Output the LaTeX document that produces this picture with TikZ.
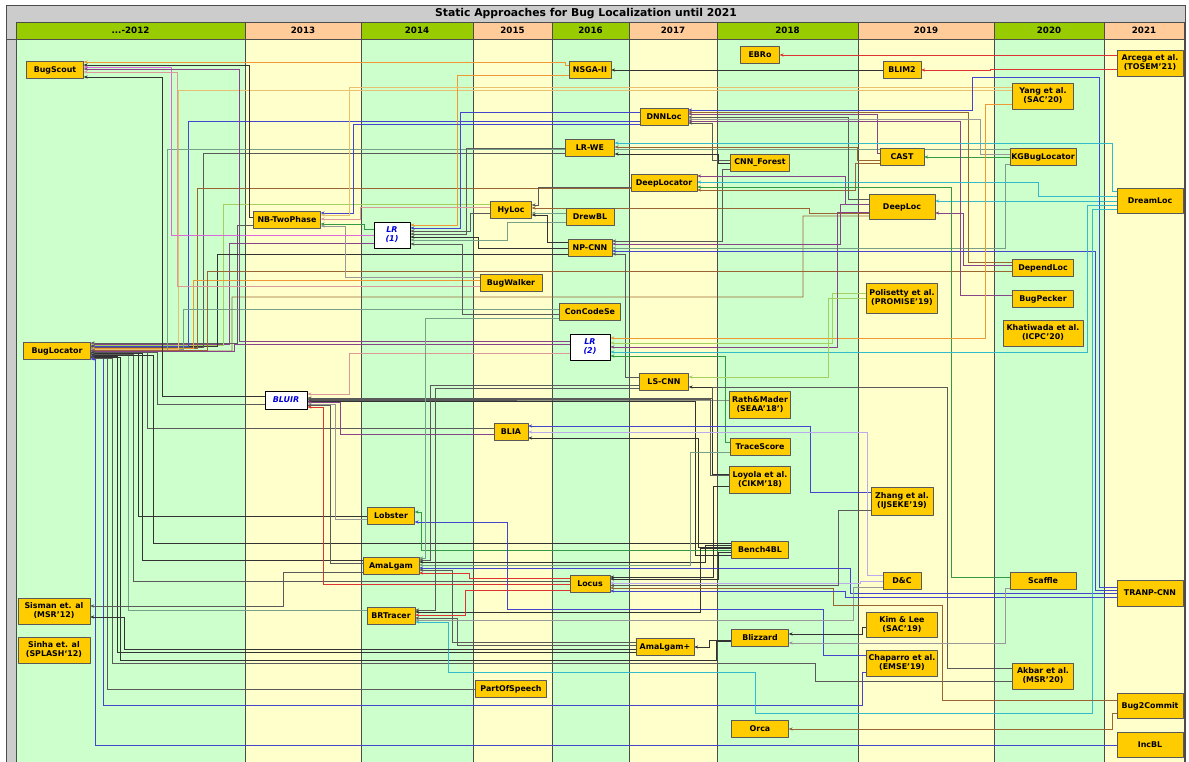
\documentclass[tikz,border=0pt]{standalone}
\usepackage{fontspec}
\setmainfont{DejaVu Sans}
\usetikzlibrary{arrows.meta}

\definecolor{gold}{HTML}{FFCC00}
\definecolor{framegray}{HTML}{CCCCCC}
\definecolor{hgreen}{HTML}{99CC00}
\definecolor{horange}{HTML}{FFCC99}
\definecolor{bgreen}{HTML}{CCFFCC}
\definecolor{byellow}{HTML}{FFFFCC}
\definecolor{cblack}{HTML}{333333}
\definecolor{cdgray}{HTML}{5A5A5A}
\definecolor{cgray}{HTML}{999999}
\definecolor{cblue}{HTML}{4444CC}
\definecolor{cpurple}{HTML}{884488}
\definecolor{cmagenta}{HTML}{DD66DD}
\definecolor{corange}{HTML}{EE9933}
\definecolor{clorange}{HTML}{E8C070}
\definecolor{cgreen}{HTML}{339944}
\definecolor{clgreen}{HTML}{A5D060}
\definecolor{cteal}{HTML}{77A088}
\definecolor{ccyan}{HTML}{33BBCC}
\definecolor{cred}{HTML}{DD3333}
\definecolor{cbrown}{HTML}{996633}
\definecolor{clav}{HTML}{BBAAEE}
\definecolor{cpink}{HTML}{DD9999}

\pgfdeclarelayer{background}
\pgfsetlayers{background,main}

\begin{document}
\begin{tikzpicture}[
		x=1pt, y=-1pt,
		meth/.style={draw=black!65, fill=gold, font=\bfseries\fontsize{7.9}{9}\selectfont, minimum height=17, inner sep=1pt, align=center},
		twoline/.style={meth, minimum height=26},
		lrbox/.style={draw=black, line width=0.8pt, fill=white, text=blue!85!black, font=\bfseries\itshape\fontsize{8}{9}\selectfont, inner sep=1pt, align=center},
		cite/.style={line width=0.45pt, -{Stealth[length=4pt,width=3.2pt]}},
		colsep/.style={draw=black!70, line width=0.6pt},
		hdr/.style={font=\bfseries\fontsize{8.7}{10}\selectfont},
		line cap=round,
		line join=round
		]
		\useasboundingbox (0,0) rectangle (1189,762);
		
		% ---- approaches ----
		\node[meth, minimum width=57] (bugscout) at (55,70) {BugScout};
		\node[meth, minimum width=42] (nsga) at (590,70) {NSGA-II};
		\node[meth, minimum width=39] (ebro) at (760,55) {EBRo};
		\node[meth, minimum width=38] (blim2) at (902,70) {BLIM2};
		\node[twoline, minimum width=66] (arcega) at (1150,63) {Arcega et al.\\(TOSEM'21)};
		\node[twoline, minimum width=61] (yang) at (1043,96) {Yang et al.\\(SAC'20)};
		\node[meth, minimum width=48] (dnnloc) at (664,117) {DNNLoc};
		\node[meth, minimum width=49] (lrwe) at (590,148) {LR-WE};
		\node[meth, minimum width=59] (cnnforest) at (760,163) {CNN\_Forest};
		\node[meth, minimum width=44] (cast) at (902,157) {CAST};
		\node[meth, minimum width=66] (kgbug) at (1043,157) {KGBugLocator};
		\node[meth, minimum width=66] (deeplocator) at (664,183) {DeepLocator};
		\node[twoline, minimum width=66, minimum height=25] (dreamloc) at (1150,201) {DreamLoc};
		\node[twoline, minimum width=66, minimum height=25] (deeploc) at (902,207) {DeepLoc};
		\node[meth, minimum width=67] (nbtwo) at (287,220) {NB-TwoPhase};
		\node[meth, minimum width=41] (hyloc) at (511,210) {HyLoc};
		\node[meth, minimum width=48] (drewbl) at (590,217) {DrewBL};
		\node[lrbox, minimum width=36, minimum height=26] (lr1) at (392,235) {LR\\(1)};
		\node[meth, minimum width=44] (npcnn) at (590,248) {NP-CNN};
		\node[meth, minimum width=61] (dependloc) at (1043,268) {DependLoc};
		\node[meth, minimum width=62] (bugwalker) at (511,283) {BugWalker};
		\node[twoline, minimum width=71, minimum height=30] (polisetty) at (902,298) {Polisetty et al.\\(PROMISE'19)};
		\node[meth, minimum width=61] (bugpecker) at (1043,299) {BugPecker};
		\node[meth, minimum width=61] (concodese) at (590,312) {ConCodeSe};
		\node[twoline, minimum width=80] (khatiwada) at (1043,333) {Khatiwada et al.\\(ICPC'20)};
		\node[lrbox, minimum width=40, minimum height=26] (lr2) at (590,347) {LR\\(2)};
		\node[meth, minimum width=67] (buglocator) at (57,351) {BugLocator};
		\node[meth, minimum width=49] (lscnn) at (664,382) {LS-CNN};
		\node[twoline, minimum width=61, minimum height=27] (rath) at (760,405) {Rath\&Mader\\(SEAA'18')};
		\node[lrbox, minimum width=42, minimum height=18] (bluir) at (286,400) {BLUIR};
		\node[meth, minimum width=34] (blia) at (511,432) {BLIA};
		\node[meth, minimum width=60] (tracescore) at (760,447) {TraceScore};
		\node[twoline, minimum width=61, minimum height=27] (loyola) at (760,480) {Loyola et al.\\(CIKM'18)};
		\node[twoline, minimum width=62, minimum height=28] (zhang) at (902,501) {Zhang et al.\\(IJSEKE'19)};
		\node[meth, minimum width=47] (lobster) at (391,516) {Lobster};
		\node[meth, minimum width=57] (bench4bl) at (760,550) {Bench4BL};
		\node[meth, minimum width=56] (amalgam) at (391,566) {AmaLgam};
		\node[meth, minimum width=40] (locus) at (590,584) {Locus};
		\node[meth, minimum width=38] (dc) at (902,581) {D\&C};
		\node[meth, minimum width=66] (scaffle) at (1043,581) {Scaffle};
		\node[twoline, minimum width=66] (tranp) at (1150,593) {TRANP-CNN};
		\node[twoline, minimum width=72] (sisman) at (54,611) {Sisman et. al\\(MSR'12)};
		\node[meth, minimum width=48] (brtracer) at (391,616) {BRTracer};
		\node[twoline, minimum width=71, minimum height=25] (kimlee) at (902,625) {Kim \& Lee\\(SAC'19)};
		\node[meth, minimum width=57] (blizzard) at (760,638) {Blizzard};
		\node[twoline, minimum width=72] (sinha) at (54,650) {Sinha et. al\\(SPLASH`12)};
		\node[meth, minimum width=58] (amalgamplus) at (665,647) {AmaLgam+};
		\node[twoline, minimum width=71] (chaparro) at (902,663) {Chaparro et al.\\(EMSE'19)};
		\node[twoline, minimum width=61] (akbar) at (1043,676) {Akbar et al.\\(MSR'20)};
		\node[meth, minimum width=71] (partofspeech) at (511,689) {PartOfSpeech};
		\node[twoline, minimum width=66, minimum height=25] (bug2commit) at (1150,706) {Bug2Commit};
		\node[meth, minimum width=57] (orca) at (760,729) {Orca};
		\node[twoline, minimum width=66, minimum height=25] (incbl) at (1150,745) {IncBL};
		
		\begin{pgfonlayer}{background}
		% ---- frame, title and year columns ----
		\fill[framegray, draw=black!70] (6,5) rectangle (1185,764);
		\node[font=\bfseries\fontsize{10.8}{12}\selectfont] (title) at (586,13.5) {Static Approaches for Bug Localization until 2021};
		\foreach \xa/\xb/\yr/\hc/\bc in {16/245/{...-2012}/hgreen/bgreen, 245/361/2013/horange/byellow,
				361/473/2014/hgreen/bgreen, 473/552/2015/horange/byellow, 552/629/2016/hgreen/bgreen,
				629/717/2017/horange/byellow, 717/858/2018/hgreen/bgreen, 858/994/2019/horange/byellow,
				994/1104/2020/hgreen/bgreen, 1104/1184/2021/horange/byellow}{
			\fill[\bc] (\xa,39) rectangle (\xb,764);
			\fill[\hc] (\xa,22) rectangle (\xb,39);
			\node[hdr] (yr\xa) at ({(\xa+\xb)/2},30.5) {\yr};
			\draw[colsep] (\xa,22) -- (\xa,764);
		}
		\draw[colsep] (1184,22) -- (1184,764);
		\draw[colsep] (16,22) -- (1184,22);
		\draw[colsep] (6,39) -- (1184,39);
		
		% ---- into BugLocator ----
		\draw[cite,cdgray] ([yshift=-5pt]nbtwo.west) -- ++(-16.5,0) |- ([yshift=8pt]buglocator.east);
		\draw[cite,cpurple] ([yshift=-8pt]lr1.west) -- ++(-144,0) |- ([yshift=7pt]buglocator.east);
		\draw[cite,clgreen] ([yshift=6pt]hyloc.west) -- ++(-267.5,0) |- ([yshift=6pt]buglocator.east);
		\draw[cite,cblack] ([yshift=-6pt]npcnn.west) -- ++(-351,0) |- ([yshift=5pt]buglocator.east);
		\draw[cite,cblue] ([yshift=-4pt]dnnloc.west) -- ++(-452,0) |- ([yshift=4.5pt]buglocator.east);
		\draw[cite,cdgray] ([yshift=-5pt]lrwe.west) -- ++(-362.5,0) |- ([yshift=4pt]buglocator.east);
		\draw[cite,cbrown] ([yshift=-5pt]deeplocator.west) -- ++(-434,0) |- ([yshift=3pt]buglocator.east);
		\draw[cite,corange] ([yshift=3pt]bugwalker.west) -- ++(-287,0) |- ([yshift=2.5pt]buglocator.east);
		\draw[cite,cteal] ([yshift=3pt]concodese.west) -- ++(-376.5,0) |- ([yshift=2pt]buglocator.east);
		\draw[cite,clorange] ([yshift=6pt]yang.west) -- ++(-834.5,0) |- ([yshift=1.5pt]buglocator.east);
		\draw[cite,cteal] ([yshift=8pt]kgbug.west) -- ++(-843,0) |- ([yshift=1pt]buglocator.east);
		\draw[cite,cbrown] ([yshift=-3pt]dependloc.west) -- ++(-805.5,0) |- ([yshift=0.5pt]buglocator.east);
		\draw[cite,cbrown,line width=0.9pt] ([yshift=-9pt]deeploc.west) -| (803,297) -| (232,351) -- ([yshift=0.2pt]buglocator.east);
		\draw[cite,cpurple] ([yshift=3pt]lr2.west) -- ++(-335,0) |- ([yshift=0pt]buglocator.east);
		\draw[cite,cdgray] ([yshift=-4pt]bluir.west) -- ++(-107,0) |- ([yshift=-1pt]buglocator.east);
		\draw[cite,cdgray] ([yshift=4pt]blia.west) -- ++(-347,0) |- ([yshift=-1.5pt]buglocator.east);
		\draw[cite,cblack] ([yshift=0pt]lobster.west) -- ++(-229.5,0) |- ([yshift=-2pt]buglocator.east);
		\draw[cite,cblack] ([yshift=6pt]amalgam.west) -- ++(-221,0) |- ([yshift=-2.5pt]buglocator.east);
		\draw[cite,cteal] ([yshift=6pt]brtracer.west) -- ++(-239,0) |- ([yshift=-3pt]buglocator.east);
		\draw[cite,cdgray] ([yshift=3pt]locus.west) -- ++(-437,0) |- ([yshift=-3.5pt]buglocator.east);
		\draw[cite,cblack] ([yshift=7pt]bench4bl.west) -- ++(-578.5,0) |- ([yshift=-4pt]buglocator.east);
		\draw[cite,cdgray] (partofspeech.west) -- ++(-368.5,0) |- ([yshift=-5pt]buglocator.east);
		\draw[cite,cblack] ([yshift=-5pt]amalgamplus.west) -- ++(-519,0) |- ([yshift=-5.5pt]buglocator.east);
		\draw[cite,cblue] ([yshift=-9pt]chaparro.west) -| (862,705) -| (103,357) -- ([yshift=-6pt]buglocator.east);
		\draw[cite,cblack] ([yshift=-3pt]blizzard.west) -| (716,660) -| (120,357.5) -- ([yshift=-6.5pt]buglocator.east);
		\draw[cite,cdgray] ([yshift=-5pt]akbar.west) -| (815,663) -| (112,358) -- ([yshift=-7pt]buglocator.east);
		\draw[cite,cblue] (incbl.west) -- ++(-1022,0) |- ([yshift=-8pt]buglocator.east);
		
		% ---- into BugScout ----
		\draw[cite,corange] ([yshift=5pt]nsga.west) -- ++(-4,0) |- ([yshift=8pt]bugscout.east);
		\draw[cite,cblack] ([yshift=3pt]nbtwo.west) -- ++(-4.5,0) |- ([yshift=5pt]bugscout.east);
		\draw[cite,cmagenta] (lr1.west) -- ++(-202,0) |- ([yshift=3pt]bugscout.east);
		\draw[cite,cpurple] ([yshift=6pt]lr2.west) -- ++(-330,0) |- ([yshift=1pt]bugscout.east);
		\draw[cite,cpink] ([yshift=-3pt]bugwalker.west) -- ++(-303,0) |- ([yshift=-2pt]bugscout.east);
		\draw[cite,cblack] ([yshift=4pt]bluir.west) -- ++(-102,0) |- ([yshift=-7pt]bugscout.east);
		
		% ---- top right ----
		\draw[cite,cred] ([yshift=8pt]arcega.west) -- (ebro.east);
		\draw[cite,cred] ([yshift=-6pt]arcega.west) -- ++(-127,0) |- (blim2.east);
		\draw[cite,cblack] (blim2.west) -- (nsga.east);
		\draw[cite,cgreen] (kgbug.west) -- (cast.east);
		\draw[cite,ccyan] (dreamloc.west) -- ([yshift=6pt]deeploc.east);
		\draw[cite,cpurple] ([yshift=3pt]dependloc.west) -- ++(-49.5,0) |- ([yshift=-6pt]deeploc.east);
		
		% ---- into LR (1) ----
		\draw[cite,corange] ([yshift=-5pt]nsga.west) -- ++(-112,0) |- ([yshift=10pt]lr1.east);
		\draw[cite,cblue] ([yshift=5pt]dnnloc.west) -- ++(-180,0) |- ([yshift=7pt]lr1.east);
		\draw[cite,cdgray] ([yshift=-3pt]hyloc.west) -- ++(-20.5,0) |- ([yshift=4pt]lr1.east);
		\draw[cite,cdgray] (lrwe.west) -- ++(-99.5,0) |- ([yshift=1pt]lr1.east);
		\draw[cite,cblack] (npcnn.west) -- ++(-90,0) |- ([yshift=-2pt]lr1.east);
		\draw[cite,cteal] ([yshift=-5pt]drewbl.west) -- ++(-59,0) |- ([yshift=-5pt]lr1.east);
		\draw[cite,cdgray] ([yshift=-2pt]concodese.west) -- ++(-97.5,0) |- ([yshift=-9pt]lr1.east);
		
		% ---- into NB-TwoPhase ----
		\draw[cite,cblue] ([yshift=-7pt]dnnloc.west) -- ++(-287,0) |- ([yshift=7pt]nbtwo.east);
		\draw[cite,clorange] ([yshift=9pt]yang.west) -- ++(-663.5,0) |- ([yshift=5pt]nbtwo.east);
		\draw[cite,cpink] ([yshift=3pt]hyloc.west) -- ++(-130.5,0) |- ([yshift=1pt]nbtwo.east);
		\draw[cite,cgreen] ([yshift=6pt]lr1.west) -- ++(-9,0) |- ([yshift=-4pt]nbtwo.east);
		\draw[cite,cgray] ([yshift=6pt]bugwalker.west) -- ++(-135,0) |- ([yshift=-6pt]nbtwo.east);
		
		% ---- into HyLoc and NP-CNN ----
		\draw[cite,cdgray] ([yshift=-4pt]deeplocator.west) -- ++(-93,0) |- ([yshift=5pt]hyloc.east);
		\draw[cite,cbrown] ([yshift=-6pt]deeploc.west) -- ++(-60,0) |- ([yshift=2pt]hyloc.east);
		\draw[cite,cteal] ([yshift=4pt]drewbl.west) -- ([yshift=-3pt]hyloc.east);
		\draw[cite,cblack] ([yshift=6pt]npcnn.west) -- ++(-21,0) |- ([yshift=-5pt]hyloc.east);
		\draw[cite,cdgray] ([yshift=-6pt]cnnforest.west) -- ++(-8.5,0) |- ([yshift=7pt]npcnn.east);
		\draw[cite,cpurple] ([yshift=3pt]deeploc.west) -- ++(-29,0) |- ([yshift=4pt]npcnn.east);
		\draw[cite,cteal] ([yshift=-7pt]kgbug.west) -- ++(-5,0) |- (npcnn.east);
		\draw[cite,cblue] ([yshift=3pt]tranp.west) -- ++(-22,0) |- ([yshift=-3pt]npcnn.east);
		\draw[cite,cdgray] ([yshift=5pt]lscnn.west) -- ++(-14.5,0) |- ([yshift=-6pt]npcnn.east);
		
		% ---- into DNNLoc, LR-WE, DeepLocator ----
		\draw[cite,cblue] ([yshift=6pt]tranp.west) -| (1099,77) -| (972,110) -- ([yshift=7pt]dnnloc.east);
		\draw[cite,cbrown] ([yshift=6pt]dependloc.west) -- ++(-44.5,0) |- ([yshift=5pt]dnnloc.east);
		\draw[cite,cpurple] ([yshift=4pt]cast.west) -- ++(-3,0) |- ([yshift=3pt]dnnloc.east);
		\draw[cite,cdgray] ([yshift=8pt]deeploc.west) -- ++(-21,0) |- (dnnloc.east);
		\draw[cite,cgray] ([yshift=3pt]kgbug.west) -- ++(-30,0) |- ([yshift=-2pt]dnnloc.east);
		\draw[cite,cpurple] ([yshift=4pt]bugpecker.west) -- ++(-52.5,0) |- ([yshift=-4pt]dnnloc.east);
		\draw[cite,cdgray] ([yshift=3pt]cnnforest.west) -- ++(-18.5,0) |- ([yshift=-6pt]dnnloc.east);
		\draw[cite,ccyan] ([yshift=10pt]dreamloc.west) -- ++(-5,0) |- ([yshift=5pt]lrwe.east);
		\draw[cite,cbrown] ([yshift=-3pt]cast.west) -- ++(-23,0) |- ([yshift=1pt]lrwe.east);
		\draw[cite,cblack] (cnnforest.west) -- ++(-12.5,0) |- ([yshift=-6pt]lrwe.east);
		\draw[cite,cpurple] ([yshift=3pt]deeploc.west) -- ++(-24,0) |- ([yshift=7pt]deeplocator.east);
		\draw[cite,ccyan] ([yshift=5pt]dreamloc.west) -- ++(-79,0) |- ([yshift=1pt]deeplocator.east);
		\draw[cite,cgreen] ([yshift=4pt]scaffle.west) -- ++(-59,0) |- ([yshift=-4pt]deeplocator.east);
		\draw[cite,cbrown] ([yshift=-6pt]cast.west) -- ++(-25,0) |- ([yshift=-7pt]deeplocator.east);
		
		% ---- into LR (2) and LS-CNN ----
		\draw[cite,corange] ([yshift=-8pt]yang.west) -- ++(-27.5,0) |- ([yshift=9pt]lr2.east);
		\draw[cite,clgreen] ([yshift=5pt]polisetty.west) -- ++(-34.5,0) |- ([yshift=4pt]lr2.east);
		\draw[cite,cpurple] ([yshift=-5pt]deeploc.west) -- ++(-32,0) |- (lr2.east);
		\draw[cite,ccyan] ([yshift=-4pt]dreamloc.west) -- ++(-30,0) |- ([yshift=-5pt]lr2.east);
		\draw[cite,cgreen] ([yshift=5pt]tracescore.west) -- ++(-5,0) |- ([yshift=-9pt]lr2.east);
		\draw[cite,clgreen] (polisetty.west) -- ++(-38.5,0) |- ([yshift=5pt]lscnn.east);
		\draw[cite,cblack] ([yshift=6pt]loyola.west) -- ++(-17.5,0) |- ([yshift=-5pt]lscnn.east);
		
		% ---- into BLUIR and BLIA ----
		\draw[cite,cdgray] ([yshift=8pt]akbar.west) -| (947,387) -| (712,398) -- ([yshift=2pt]bluir.east);
		\draw[cite,cdgray] ([yshift=5pt]rath.west) -- ++(-9.5,0) |- (bluir.east);
		\draw[cite,cdgray] ([yshift=5pt]loyola.west) -- ++(-19.5,0) |- ([yshift=1pt]bluir.east);
		\draw[cite,cblack] ([yshift=-5pt]bench4bl.west) -- ++(-36.5,0) |- ([yshift=-1.5pt]bluir.east);
		\draw[cite,cpink] ([yshift=-6pt]lr2.west) -- ++(-220,0) |- ([yshift=6pt]bluir.east);
		\draw[cite,cpurple] ([yshift=-2pt]blia.west) -- ++(-154,0) |- ([yshift=-2pt]bluir.east);
		\draw[cite,cgray] ([yshift=-3pt]lobster.west) -- ++(-32.5,0) |- ([yshift=-4pt]bluir.east);
		\draw[cite,cdgray] ([yshift=3pt]amalgam.west) -- ++(-33,0) |- ([yshift=-5.5pt]bluir.east);
		\draw[cite,cred] (locus.west) -- ++(-247,0) |- ([yshift=-7pt]bluir.east);
		\draw[cite,cblue] ([yshift=9pt]zhang.west) -- ++(-61,0) |- ([yshift=6pt]blia.east);
		\draw[cite,clav] ([yshift=6pt]dc.west) -- ++(-16,0) |- (blia.east);
		\draw[cite,cblack] ([yshift=3pt]bench4bl.west) -- ++(-33.5,0) |- ([yshift=-6pt]blia.east);
		
		% ---- into Lobster, AmaLgam, BRTracer ----
		\draw[cite,cgreen] (bench4bl.west) -- ++(-310.5,0) |- ([yshift=4pt]lobster.east);
		\draw[cite,cblue] ([yshift=8pt]chaparro.west) -| (823,609) -| (507,522) -- ([yshift=-6pt]lobster.east);
		\draw[cite,cteal] ([yshift=-6pt]concodese.west) -- ++(-134.5,0) |- ([yshift=8pt]amalgam.east);
		\draw[cite,cdgray] ([yshift=-3pt]lscnn.west) -- ++(-209.5,0) |- ([yshift=6pt]amalgam.east);
		\draw[cite,cblack] ([yshift=5pt]bench4bl.west) -- ++(-26.5,0) |- ([yshift=4pt]amalgam.east);
		\draw[cite,cteal] ([yshift=-5pt]tracescore.west) -- ++(-40,0) |- ([yshift=1pt]amalgam.east);
		\draw[cite,cblue] (tranp.west) -- ++(-267,0) |- ([yshift=-2pt]amalgam.east);
		\draw[cite,cdgray] ([yshift=5pt]amalgamplus.west) -- ++(-184,0) |- ([yshift=-4pt]amalgam.east);
		\draw[cite,cred] ([yshift=6pt]locus.west) -- ++(-101,0) |- ([yshift=-7pt]amalgam.east);
		\draw[cite,cdgray] ([yshift=-6pt]lscnn.west) -- ++(-204.5,0) |- ([yshift=6pt]brtracer.east);
		\draw[cite,cblack] ([yshift=2pt]bench4bl.west) -- ++(-31.5,0) |- ([yshift=4pt]brtracer.east);
		\draw[cite,cred] ([yshift=-6pt]locus.west) -- ++(-105,0) |- ([yshift=1pt]brtracer.east);
		\draw[cite,cdgray] ([yshift=2pt]amalgamplus.west) -- ++(-179,0) |- ([yshift=-2pt]brtracer.east);
		\draw[cite,cgray] ([yshift=-6pt]dc.west) -- ++(-30,0) |- ([yshift=-4pt]brtracer.east);
		\draw[cite,ccyan] ([yshift=-8pt]dreamloc.west) -| (1092,713) -| (755,672) -| (448,622) -- ([yshift=-6pt]brtracer.east);
		
		% ---- into Locus, Sisman, Blizzard, AmaLgam+, Orca ----
		\draw[cite,cblack] ([yshift=-6pt]loyola.west) -- ++(-16.5,0) |- ([yshift=7pt]locus.east);
		\draw[cite,cblack] ([yshift=-2pt]bench4bl.west) -- ++(-13.5,0) |- ([yshift=5pt]locus.east);
		\draw[cite,clav] (dc.west) -- ++(-23,0) |- ([yshift=1pt]locus.east);
		\draw[cite,cdgray] ([yshift=-9pt]zhang.west) -- ++(-33,0) |- ([yshift=-1.5pt]locus.east);
		\draw[cite,cbrown] ([yshift=6pt]bug2commit.west) -| (942,605) -| (833,588) -- ([yshift=-4pt]locus.east);
		\draw[cite,cblue] ([yshift=-4pt]tranp.west) -- ++(-272,0) |- ([yshift=-7pt]locus.east);
		\draw[cite,cdgray] ([yshift=-6pt]amalgam.west) -- ++(-80,0) |- ([yshift=5pt]sisman.east);
		\draw[cite,cblack] ([yshift=-2pt]amalgamplus.west) -- ++(-512,0) |- ([yshift=-6pt]sisman.east);
		\draw[cite,cblack] ([yshift=-2pt]kimlee.west) -- ++(-4.5,0) |- ([yshift=4pt]blizzard.east);
		\draw[cite,cgray] ([yshift=-7pt]scaffle.west) -- ++(-5,0) |- ([yshift=-5pt]blizzard.east);
		\draw[cite,cblack] ([yshift=-2pt]blizzard.west) -- ++(-22.5,0) |- (amalgamplus.east);
		\draw[cite,cbrown] ([yshift=-7pt]bug2commit.west) -- ++(-5,0) |- (orca.east);
		\end{pgfonlayer}
	\end{tikzpicture}
\end{document}
